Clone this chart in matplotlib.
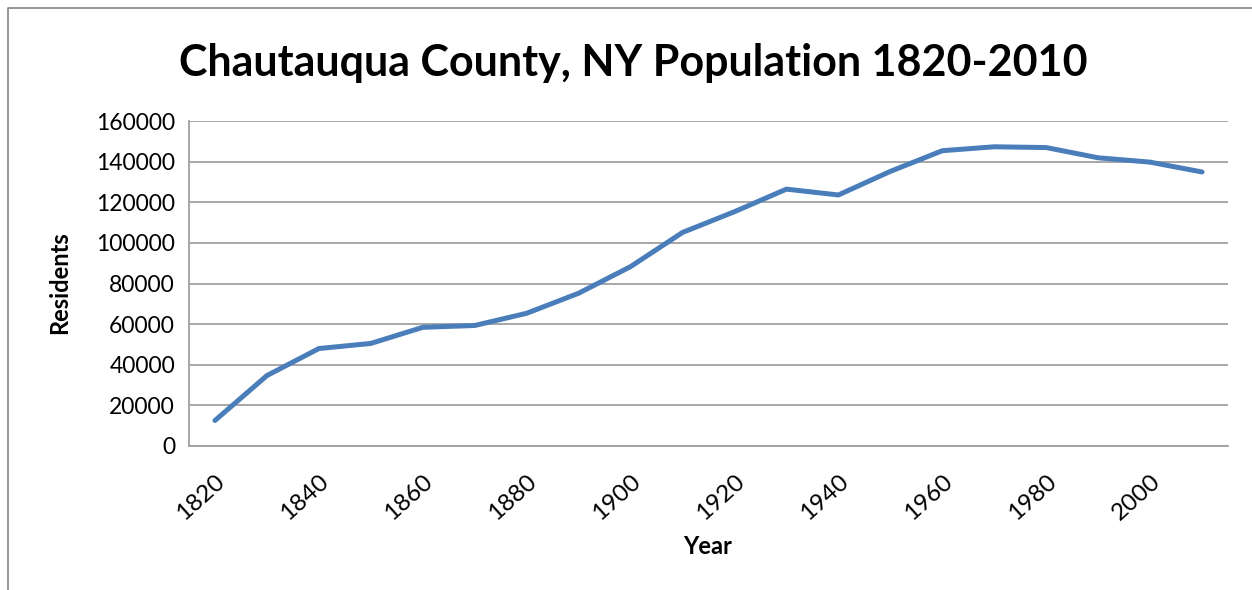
import matplotlib.pyplot as plt
from matplotlib.lines import Line2D

plt.rcParams['font.family'] = ['Lato', 'DejaVu Sans']

# census years and county population
years = [1820, 1830, 1840, 1850, 1860, 1870, 1880, 1890, 1900, 1910,
         1920, 1930, 1940, 1950, 1960, 1970, 1980, 1990, 2000, 2010]
residents = [12568, 34671, 47975, 50493, 58422, 59327, 65342, 75202, 88314, 105126,
             115348, 126457, 123580, 135189, 145377, 147305, 146925, 141895, 139750, 134905]

fig = plt.figure(figsize=(12.52, 5.9), dpi=100)
ax = fig.add_axes([189 / 1252, 1 - 446 / 590, (1228 - 189) / 1252, (446 - 121) / 590])

# category axis like the spreadsheet: one slot per year
xpos = list(range(len(years)))
ax.plot(xpos, residents, color='#4A7EBB', linewidth=3.6, solid_capstyle='round')

ax.set_xlim(-0.5, len(years) - 0.5)
ax.set_ylim(0, 160000)
ax.set_yticks(range(0, 160001, 20000))
ax.set_yticklabels([str(v) for v in range(0, 160001, 20000)], fontsize=16.5)
ax.set_xticks(xpos[::2])
ax.set_xticklabels([str(y) for y in years[::2]], fontsize=17.5, rotation=42,
                   ha='right', rotation_mode='anchor')
ax.tick_params(axis='both', length=0)
ax.tick_params(axis='x', pad=18)
ax.tick_params(axis='y', pad=10)

ax.grid(axis='y', color='#A0A0A0', linewidth=1.3)
ax.set_axisbelow(True)
for side in ['top', 'right']:
    ax.spines[side].set_visible(False)
for side in ['left', 'bottom']:
    ax.spines[side].set_color('#A0A0A0')
    ax.spines[side].set_linewidth(1.3)

fig.text(633 / 1252, 1 - 63 / 590, 'Chautauqua County, NY Population 1820-2010',
         ha='center', va='center', fontsize=31, fontweight='bold')
fig.text(708 / 1252, 1 - 547 / 590, 'Year', ha='center', va='center',
         fontsize=17, fontweight='bold')
fig.text(60 / 1252, 1 - 283 / 590, 'Residents', ha='center', va='center',
         fontsize=17, fontweight='bold', rotation=90)

# outer chart border (left and top only are visible in the crop)
fig.lines.append(Line2D([8 / 1252, 8 / 1252, 1], [0, 1 - 8 / 590, 1 - 8 / 590],
                        transform=fig.transFigure, color='#8C8C8C', linewidth=1.3))

fig.savefig('out.png', dpi=100)
